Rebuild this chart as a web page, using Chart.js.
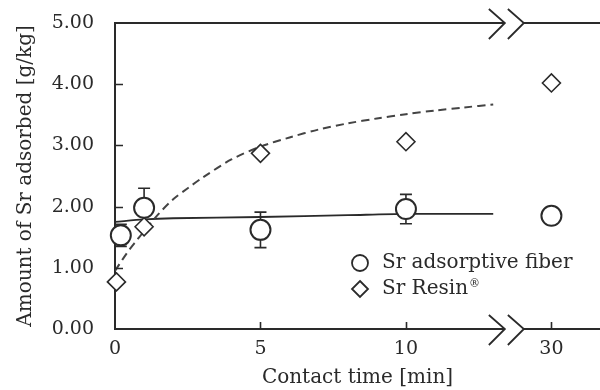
<!DOCTYPE html>
<html>
<head>
<meta charset="utf-8">
<script src="https://cdn.jsdelivr.net/npm/chart.js@4.4.0/dist/chart.umd.min.js"></script>
<style>
html, body { margin: 0; padding: 0; background: #fff; }
#wrap { width: 600px; height: 390px; position: relative; }
</style>
</head>
<body>
<div id="wrap"><canvas id="c"></canvas></div>
<script>
// 30 min is drawn at axis position 15 (after the axis break)
const fiberTime  = [0.2, 1, 5, 10, 15];
const fiberValue = [1.53, 1.98, 1.62, 1.96, 1.85];
const fiberError = [0.18, 0.32, 0.29, 0.24, 0];

const resinTime  = [0.05, 1, 5, 10, 15];
const resinValue = [0.77, 1.67, 2.87, 3.06, 4.02];

// fitted curves
const fiberFitTime  = [0, 1, 2, 5, 8, 10, 13];
const fiberFitValue = [1.75, 1.79, 1.81, 1.83, 1.86, 1.88, 1.88];

const resinFitTime  = [0, 0.25, 0.5, 0.75, 1, 1.5, 2, 2.5, 3, 4, 5, 6, 7, 8, 9, 10, 11, 12, 13];
const resinFitValue = [0.95, 1.13, 1.3, 1.45, 1.6, 1.88, 2.12, 2.3, 2.47, 2.77, 2.98, 3.13, 3.26, 3.36, 3.44, 3.51, 3.57, 3.62, 3.67];

const xTickLabels = { 0: '0', 5: '5', 10: '10', 15: '30' };
const legendLabels = ['Sr adsorptive fiber', 'Sr Resin\u00AE'];

const BREAK_AT = 13.4;   // axis value of the break symbol
const INK = '#2a2a2a';
const FONT = '"DejaVu Serif", "Liberation Serif", serif';

const toPoints = (xs, ys) => xs.map((x, i) => ({ x: x, y: ys[i] }));

// error bars, tick marks, top frame, axis breaks, legend
const decorations = {
    id: 'decorations',
    beforeDatasetsDraw(chart) {
        const ctx = chart.ctx;
        const xs = chart.scales.x, ys = chart.scales.y;
        ctx.save();
        ctx.strokeStyle = INK;
        ctx.lineWidth = 1.6;
        fiberTime.forEach((t, i) => {
            const e = fiberError[i];
            if (!e) return;
            const px = xs.getPixelForValue(t);
            const top = ys.getPixelForValue(fiberValue[i] + e);
            const bot = ys.getPixelForValue(fiberValue[i] - e);
            ctx.beginPath();
            ctx.moveTo(px, top); ctx.lineTo(px, bot);
            ctx.moveTo(px - 6, top); ctx.lineTo(px + 6, top);
            ctx.moveTo(px - 6, bot); ctx.lineTo(px + 6, bot);
            ctx.stroke();
        });
        ctx.restore();
    },
    afterDraw(chart) {
        const ctx = chart.ctx;
        const area = chart.chartArea;
        const xs = chart.scales.x, ys = chart.scales.y;
        ctx.save();
        ctx.strokeStyle = INK;
        ctx.lineWidth = 1.6;

        // inward ticks
        ctx.beginPath();
        [1, 2, 3, 4].forEach(v => {
            const py = Math.round(ys.getPixelForValue(v)) + 0.5;
            ctx.moveTo(area.left, py); ctx.lineTo(area.left + 8, py);
        });
        [5, 10, 15].forEach(v => {
            const px = Math.round(xs.getPixelForValue(v)) + 0.5;
            ctx.moveTo(px, area.bottom); ctx.lineTo(px, area.bottom - 7);
        });
        ctx.stroke();

        // top frame line
        ctx.lineWidth = 2;
        ctx.beginPath();
        ctx.moveTo(area.left, area.top); ctx.lineTo(area.right, area.top);
        ctx.stroke();

        // axis breaks ">>"
        const tip1 = xs.getPixelForValue(BREAK_AT);
        const tip2 = tip1 + 19;
        [area.top, area.bottom].forEach(y => {
            ctx.fillStyle = '#fff';
            ctx.fillRect(tip1, y - 2, tip2 - tip1, 4);
            ctx.lineWidth = 1.8;
            ctx.beginPath();
            [tip1, tip2].forEach(tx => {
                ctx.moveTo(tx - 16, y - 14);
                ctx.lineTo(tx, y);
                ctx.lineTo(tx - 16, y + 16);
            });
            ctx.stroke();
        });

        // legend inside the plot
        const lx = 360, ly = [263, 289];
        ctx.lineWidth = 1.8;
        ctx.fillStyle = '#fff';
        ctx.beginPath();
        ctx.arc(lx, ly[0], 8, 0, Math.PI * 2);
        ctx.fill(); ctx.stroke();
        ctx.beginPath();
        ctx.moveTo(lx, ly[1] - 8); ctx.lineTo(lx + 8, ly[1]);
        ctx.lineTo(lx, ly[1] + 8); ctx.lineTo(lx - 8, ly[1]);
        ctx.closePath();
        ctx.fill(); ctx.stroke();
        ctx.fillStyle = INK;
        ctx.font = '20px ' + FONT;
        ctx.textBaseline = 'middle';
        ctx.textAlign = 'left';
        ctx.fillText(legendLabels[0], 382, ly[0]);
        // the ® is set small and raised
        const main = legendLabels[1].slice(0, -1);
        ctx.fillText(main, 382, ly[1]);
        const w = ctx.measureText(main).width;
        ctx.font = '11px ' + FONT;
        ctx.fillText(legendLabels[1].slice(-1), 382 + w + 1, ly[1] - 5);
        ctx.restore();
    }
};

new Chart(document.getElementById('c'), {
    type: 'line',
    data: {
        datasets: [
            {
                label: legendLabels[0],
                data: toPoints(fiberTime, fiberValue),
                showLine: false,
                pointStyle: 'circle',
                pointRadius: 10,
                pointBorderWidth: 2,
                pointBorderColor: INK,
                pointBackgroundColor: '#fff',
                clip: false,
                order: 0
            },
            {
                label: legendLabels[1],
                data: toPoints(resinTime, resinValue),
                showLine: false,
                pointStyle: 'rectRot',
                pointRadius: 9,
                pointBorderWidth: 1.6,
                pointBorderColor: INK,
                pointBackgroundColor: '#fff',
                clip: false,
                order: 1
            },
            {
                label: 'fiber fit',
                data: toPoints(fiberFitTime, fiberFitValue),
                borderColor: INK,
                borderWidth: 1.8,
                pointRadius: 0,
                tension: 0.3,
                order: 3
            },
            {
                label: 'resin fit',
                data: toPoints(resinFitTime, resinFitValue),
                borderColor: '#444',
                borderWidth: 2,
                borderDash: [8, 5],
                pointRadius: 0,
                tension: 0.3,
                order: 2
            }
        ]
    },
    options: {
        responsive: true,
        maintainAspectRatio: false,
        animation: false,
        layout: { autoPadding: false, padding: { top: 23, right: 0, left: 0, bottom: 0 } },
        plugins: {
            legend: { display: false },
            tooltip: { enabled: false }
        },
        scales: {
            x: {
                type: 'linear',
                min: 0,
                max: 16.67,
                grid: { display: false, drawTicks: false },
                border: { display: true, color: INK, width: 2 },
                ticks: {
                    stepSize: 5,
                    includeBounds: false,
                    padding: 9,
                    color: INK,
                    font: { family: FONT, size: 19 },
                    maxRotation: 0,
                    callback: v => xTickLabels[v] !== undefined ? xTickLabels[v] : ''
                },
                title: {
                    display: true,
                    text: 'Contact time [min]',
                    color: INK,
                    font: { family: FONT, size: 20 },
                    padding: { top: 0, bottom: 0 }
                },
                afterFit: s => { s.height = 61; s.paddingLeft = 0; s.paddingRight = 0; }
            },
            y: {
                min: 0,
                max: 5,
                grid: { display: false, drawTicks: false },
                border: { display: true, color: INK, width: 2 },
                ticks: {
                    stepSize: 1,
                    padding: 21,
                    color: INK,
                    font: { family: FONT, size: 19 },
                    callback: v => v.toFixed(2)
                },
                title: {
                    display: true,
                    text: 'Amount of Sr adsorbed [g/kg]',
                    color: INK,
                    font: { family: FONT, size: 20 },
                    padding: { top: 14, bottom: 0 }
                },
                afterFit: s => { s.width = 115; s.paddingTop = 0; s.paddingBottom = 0; }
            }
        }
    },
    plugins: [decorations]
});
</script>
</body>
</html>
